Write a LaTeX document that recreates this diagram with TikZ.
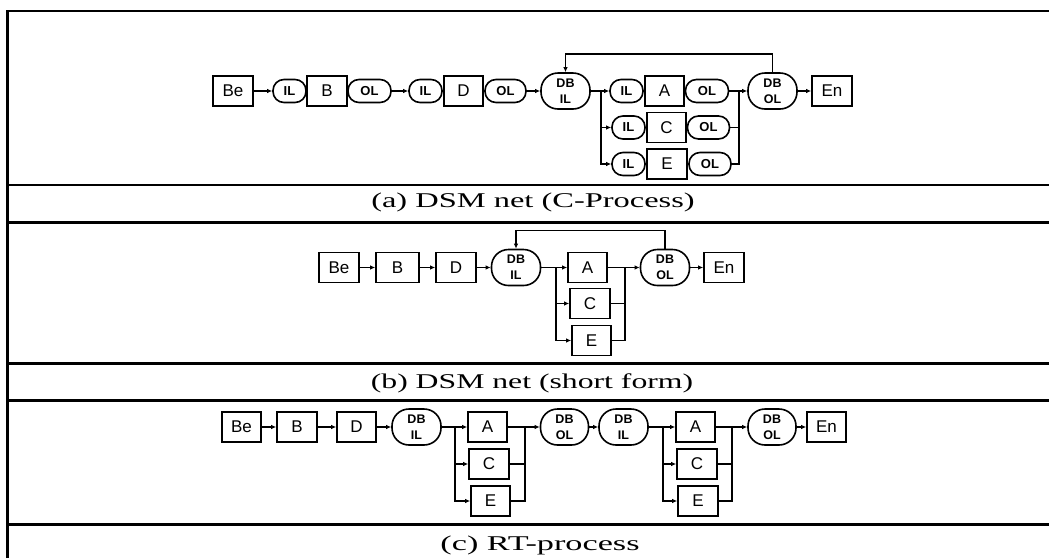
\documentclass[tikz,border=0pt]{standalone}
\usepackage{fontspec}
\setmainfont{Liberation Serif}
\newfontfamily\arial{Liberation Sans}
\usetikzlibrary{arrows.meta}
\tikzset{
 frame/.style={line width=2.2pt},
 bx/.style={draw, line width=1.6pt, minimum width=40pt, minimum height=30pt, inner sep=0pt, font=\arial\fontsize{17}{20}\selectfont},
 pill/.style={draw, line width=1.6pt, rounded corners=11pt, minimum height=23pt, inner sep=0pt, font=\arial\bfseries\fontsize{13}{15}\selectfont},
 ilp/.style={pill, minimum width=33pt},
 olp/.style={pill, minimum width=43pt},
 db/.style={draw, line width=1.6pt, rounded corners=17pt, minimum width=49pt, minimum height=36pt, inner sep=0pt, align=center, font=\arial\bfseries\fontsize{12.5}{16}\selectfont},
 conn/.style={line width=1.4pt},
 arr/.style={conn, -{Latex[length=5pt,width=4.5pt]}},
 captxt/.style={font=\fontsize{21}{24}\selectfont, inner sep=0pt, anchor=base},
}
\begin{document}
\begin{tikzpicture}[x=1pt,y=-1pt]
\useasboundingbox (0,0) rectangle (1049,558);
% frame
\draw[frame] (7.5,558) -- (7.5,11) -- (1049,11);
\draw[frame] (7.5,185) -- (1049,185);
\draw[frame] (7.5,222.5) -- (1049,222.5);
\draw[frame] (7.5,363.5) -- (1049,363.5);
\draw[frame] (7.5,400.5) -- (1049,400.5);
\draw[frame] (7.5,524.5) -- (1049,524.5);

% ---------- (a)
\node[bx] (a-be) at (233,91) {Be};
\node[ilp] (a-il1) at (289.5,91) {IL};
\node[bx] (a-b) at (327,91) {B};
\node[olp] (a-ol1) at (369.5,91) {OL};
\node[ilp] (a-il2) at (425.5,91) {IL};
\node[bx, minimum width=39pt] (a-d) at (463.5,91) {D};
\node[olp, minimum width=41pt] (a-ol2) at (505.5,91) {OL};
\node[db] (a-dbil) at (565.5,91) {DB\\IL};
\coordinate (a-f) at (601,91);
\node[ilp] (a-ilA) at (626.5,91) {IL};
\node[bx, minimum width=39pt] (a-A) at (664.5,91) {A};
\node[olp] (a-olA) at (707,91) {OL};
\node[ilp] (a-ilC) at (628.5,127.5) {IL};
\node[bx, minimum width=39pt] (a-C) at (666.5,127.5) {C};
\node[olp, minimum width=42pt] (a-olC) at (708.5,127.5) {OL};
\node[ilp] (a-ilE) at (628.5,164) {IL};
\node[bx] (a-E) at (667,164) {E};
\node[olp, minimum width=42pt] (a-olE) at (710,164) {OL};
\coordinate (a-j) at (739,91);
\node[db] (a-dbol) at (772.5,91) {DB\\OL};
\node[bx] (a-en) at (832,91) {En};
\coordinate (a-fb) at (0,54);
\draw[arr] (a-be) -- (a-il1);
\draw[arr] (a-ol1) -- (a-il2);
\draw[arr] (a-ol2) -- (a-dbil);
\draw[arr] (a-dbil) -- (a-ilA);
\draw[arr] (a-f) |- (a-ilC);
\draw[arr] (a-f) |- (a-ilE);
\draw[arr] (a-olA) -- (a-dbol);
\draw[conn] (a-olC) -| (a-j);
\draw[conn] (a-olE) -| (a-j);
\draw[arr] (a-dbol) -- (a-en);
\draw[arr] (a-dbol.north) -- (a-dbol.north |- a-fb) -- (a-dbil.north |- a-fb) -- (a-dbil.north);
\node[captxt] (a-cap) at (533,207) {\scalebox{1.545}[1]{(a) DSM net (C-Process)}};

% ---------- (b)
\node[bx] (b-be) at (339,267.5) {Be};
\node[bx, minimum width=43pt] (b-b) at (397.5,267.5) {B};
\node[bx] (b-d) at (456,267.5) {D};
\node[db] (b-dbil) at (516,267.5) {DB\\IL};
\coordinate (b-f) at (556,267.5);
\node[bx, minimum width=39pt] (b-A) at (587.5,267.5) {A};
\node[bx] (b-C) at (590,303.5) {C};
\node[bx, minimum width=39pt] (b-E) at (591.5,340.5) {E};
\coordinate (b-j) at (625,267.5);
\node[db] (b-dbol) at (665,267.5) {DB\\OL};
\node[bx] (b-en) at (724,267.5) {En};
\coordinate (b-fb) at (0,230.5);
\draw[arr] (b-be) -- (b-b);
\draw[arr] (b-b) -- (b-d);
\draw[arr] (b-d) -- (b-dbil);
\draw[arr] (b-dbil) -- (b-A);
\draw[arr] (b-f) |- (b-C);
\draw[arr] (b-f) |- (b-E);
\draw[arr] (b-A) -- (b-dbol);
\draw[conn] (b-C) -| (b-j);
\draw[conn] (b-E) -| (b-j);
\draw[arr] (b-dbol) -- (b-en);
\draw[arr] (b-dbol.north) -- (b-dbol.north |- b-fb) -- (b-dbil.north |- b-fb) -- (b-dbil.north);
\node[captxt] (b-cap) at (532,388) {\scalebox{1.51}[1]{(b) DSM net (short form)}};

% ---------- (c)
\node[bx, minimum width=39pt] (c-be) at (241.5,427) {Be};
\node[bx] (c-b) at (297,427) {B};
\node[bx, minimum width=39pt] (c-d) at (356.5,427) {D};
\node[db] (c-dbil1) at (416.5,427) {DB\\IL};
\coordinate (c-f1) at (455,427);
\node[bx, minimum width=39pt] (c-A1) at (487.5,427) {A};
\node[bx] (c-C1) at (489,464) {C};
\node[bx, minimum width=39pt] (c-E1) at (490.5,501) {E};
\coordinate (c-j1) at (525,427);
\node[db, minimum width=48pt] (c-dbol1) at (564.5,427) {DB\\OL};
\node[db] (c-dbil2) at (623.5,427) {DB\\IL};
\coordinate (c-f2) at (663,427);
\node[bx, minimum width=39pt] (c-A2) at (695.5,427) {A};
\node[bx] (c-C2) at (697,464) {C};
\node[bx] (c-E2) at (698,501) {E};
\coordinate (c-j2) at (732,427);
\node[db, minimum width=48pt] (c-dbol2) at (772,427) {DB\\OL};
\node[bx, minimum width=39pt] (c-en) at (826.5,427) {En};
\draw[arr] (c-be) -- (c-b);
\draw[arr] (c-b) -- (c-d);
\draw[arr] (c-d) -- (c-dbil1);
\draw[arr] (c-dbil1) -- (c-A1);
\draw[arr] (c-f1) |- (c-C1);
\draw[arr] (c-f1) |- (c-E1);
\draw[arr] (c-A1) -- (c-dbol1);
\draw[conn] (c-C1) -| (c-j1);
\draw[conn] (c-E1) -| (c-j1);
\draw[arr] (c-dbol1) -- (c-dbil2);
\draw[arr] (c-dbil2) -- (c-A2);
\draw[arr] (c-f2) |- (c-C2);
\draw[arr] (c-f2) |- (c-E2);
\draw[arr] (c-A2) -- (c-dbol2);
\draw[conn] (c-C2) -| (c-j2);
\draw[conn] (c-E2) -| (c-j2);
\draw[arr] (c-dbol2) -- (c-en);
\node[captxt] (c-cap) at (540,550) {\scalebox{1.63}[1]{(c) RT-process}};
\end{tikzpicture}
\end{document}
